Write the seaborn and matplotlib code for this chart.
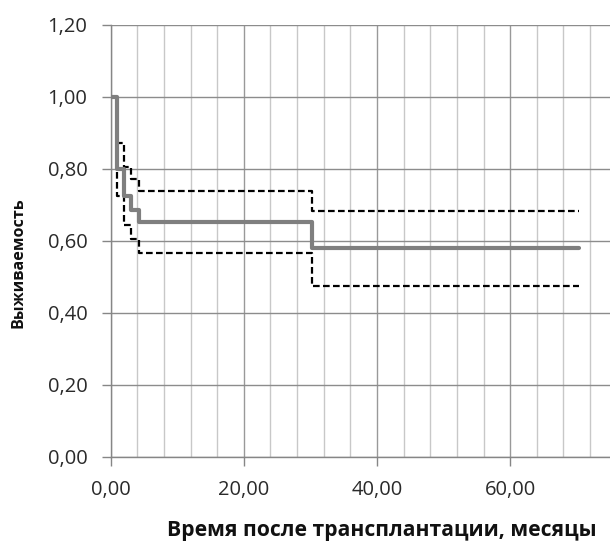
import matplotlib
matplotlib.use("Agg")
import matplotlib.pyplot as plt
import seaborn as sns
import pandas as pd
from matplotlib.ticker import FuncFormatter, MultipleLocator

# Data
months = [0.15, 1.0, 2.0, 3.0, 4.25, 30.2, 70.4]
survival = [1.00, 0.80, 0.723, 0.686, 0.651, 0.578, 0.578]
upper_ci = [1.00, 0.871, 0.805, 0.771, 0.738, 0.681, 0.681]
lower_ci = [1.00, 0.723, 0.642, 0.603, 0.564, 0.475, 0.475]

x_ticks = [0, 20, 40, 60]
y_ticks = [0.0, 0.2, 0.4, 0.6, 0.8, 1.0, 1.2]

x_label = "Время после трансплантации, месяцы"
y_label = "Выживаемость"

sns.set_style("white")
plt.rcParams['font.family'] = ['Open Sans', 'DejaVu Sans']

W, H = 610, 541
fig = plt.figure(figsize=(W / 100, H / 100), dpi=100)
x0, y0, ytop = 110.7, 456.5, 24.5
ax = fig.add_axes([x0 / W, 1 - y0 / H, (W - x0) / W, (y0 - ytop) / H])

df = pd.DataFrame({"t": months, "s": survival, "u": upper_ci, "l": lower_ci})

dash = (0, (3.0, 1.5))
sns.lineplot(data=df, x="t", y="u", ax=ax, drawstyle="steps-post", color="black",
             lw=1.6, linestyle=dash, zorder=3)
sns.lineplot(data=df, x="t", y="l", ax=ax, drawstyle="steps-post", color="black",
             lw=1.6, linestyle=dash, zorder=3)
sns.lineplot(data=df, x="t", y="s", ax=ax, drawstyle="steps-post", color="#7f7f7f",
             lw=3.0, zorder=4)

ax.set_xlim(0, 75)
ax.set_ylim(0, 1.2)
ax.set_xticks(x_ticks)
ax.xaxis.set_minor_locator(MultipleLocator(4))
ax.set_yticks(y_ticks)

fmt = FuncFormatter(lambda v, p: f"{v:.2f}".replace(".", ","))
ax.xaxis.set_major_formatter(fmt)
ax.yaxis.set_major_formatter(fmt)

ax.grid(True, which="major", axis="y", color="#8c8c8c", lw=1.0)
ax.grid(True, which="major", axis="x", color="#999999", lw=1.0)
ax.grid(True, which="minor", axis="x", color="#c8c8c8", lw=1.0)
ax.set_axisbelow(True)

for side in ["top", "right"]:
    ax.spines[side].set_visible(False)
for side in ["left", "bottom"]:
    ax.spines[side].set_color("#868686")
    ax.spines[side].set_linewidth(1.0)

ax.tick_params(axis="both", which="major", length=6.5, width=1, color="#868686",
               labelsize=14.5, labelcolor="#2a2a2a", direction="out")
ax.tick_params(axis="y", which="major", pad=10.3)
ax.tick_params(axis="x", which="major", pad=10.5)
ax.tick_params(axis="x", which="minor", length=0)
ax.tick_params(left=True, bottom=True)

ax.set_xlabel("")
ax.set_ylabel("")
fig.text(382 / W, 1 - 536 / H, x_label, fontsize=15.2, fontweight="bold",
         color="#111111", ha="center", va="baseline")
fig.text(18.7 / W, 1 - 262.5 / H, y_label, fontsize=11.6, fontweight="bold",
         color="#111111", ha="center", va="center", rotation=90)

fig.savefig("out.png", dpi=100)
